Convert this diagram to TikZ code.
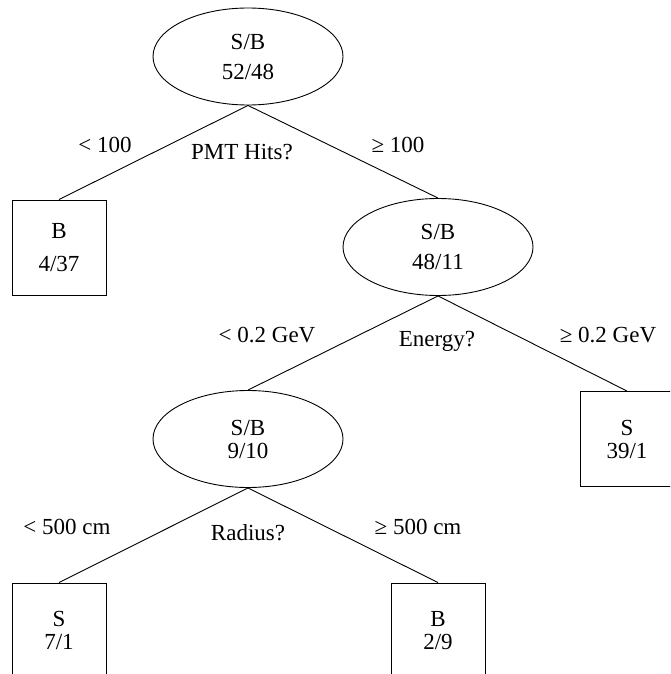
\documentclass[tikz,border=0pt]{standalone}
\usepackage{fontspec}
\setmainfont{Liberation Serif}
\usetikzlibrary{shapes.geometric}
\begin{document}
\begin{tikzpicture}[x=1pt,y=-1pt,
  every node/.style={font=\fontsize{23}{23}\selectfont},
  ell/.style={draw, ellipse, minimum width=190pt, minimum height=97pt, inner sep=0pt, align=center, line width=0.9pt},
  leaf/.style={draw, rectangle, minimum width=94pt, minimum height=95pt, inner sep=0pt, align=center, line width=0.9pt},
  conn/.style={line width=0.9pt},
  lbl/.style={inner sep=0pt}]
\useasboundingbox (0,0) rectangle (670,674);
\clip (0,0) rectangle (670,674);
% nodes
\node[ell] (r) at (248,56.5) {S/B\\[7pt]52/48};
\node[leaf] (b1) at (59,247.5) {B\\[10pt]4/37};
\node[ell] (e2) at (438,247) {S/B\\[7pt]48/11};
\node[ell] (e3) at (248,439) {S/B\\9/10};
\node[leaf] (s1) at (627,439) {S\\39/1};
\node[leaf] (s2) at (59,630.5) {S\\7/1};
\node[leaf] (b2) at (438,630.5) {B\\2/9};
% connectors
\draw[conn] (r.south) -- (b1.north);
\draw[conn] (r.south) -- (e2.north);
\draw[conn] (e2.south) -- (e3.north);
\draw[conn] (e2.south) -- (s1.north);
\draw[conn] (e3.south) -- (s2.north);
\draw[conn] (e3.south) -- (b2.north);
% labels
\node[lbl] (l1) at (105,145) {< 100};
\node[lbl] (q1) at (242,152) {PMT Hits?};
\node[lbl] (g1) at (398,145) {≥ 100};
\node[lbl] (l2) at (267,335) {< 0.2 GeV};
\node[lbl] (q2) at (437,341) {Energy?};
\node[lbl] (g2) at (608,335) {≥ 0.2 GeV};
\node[lbl] (l3) at (67,527) {< 500 cm};
\node[lbl] (q3) at (248,533) {Radius?};
\node[lbl] (g3) at (418,527) {≥ 500 cm};
\end{tikzpicture}
\end{document}
